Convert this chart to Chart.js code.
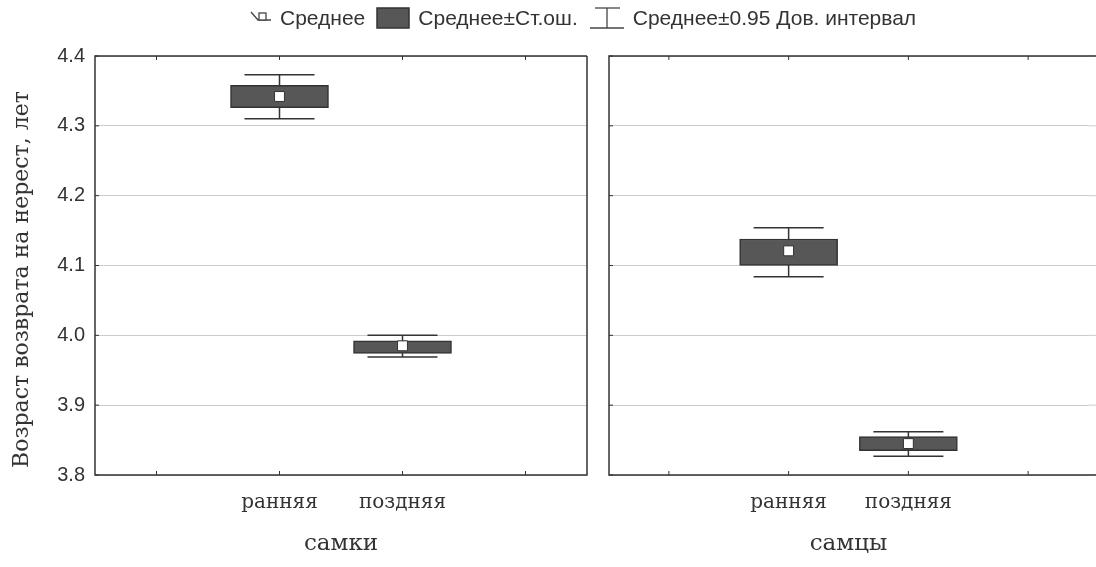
<!DOCTYPE html>
<html>
<head>
<meta charset="utf-8">
<script src="https://cdn.jsdelivr.net/npm/chart.js@4.4.0/dist/chart.umd.min.js"></script>
<style>
  body { margin: 0; background: #fff; overflow: hidden; }
  #wrap { position: relative; width: 1096px; height: 567px; overflow: hidden; }
  #left { position: absolute; left: 0; top: 0; }
  #right { position: absolute; left: 598px; top: 0; }
  #legend {
    position: absolute; left: 250px; top: 5px; height: 26px;
    display: flex; align-items: center; white-space: nowrap;
    font-family: "Liberation Sans", Arial, sans-serif; font-size: 21px; color: #333;
  }
  #legend .item { display: flex; align-items: center; margin-right: 11px; }
  #legend svg { margin-right: 8px; }
</style>
</head>
<body>
<div id="wrap">
  <canvas id="left" width="598" height="567"></canvas>
  <canvas id="right" width="498" height="567"></canvas>
  <div id="legend">
    <div class="item">
      <svg width="22" height="20"><polyline points="1,4 8,12 21,12" fill="none" stroke="#444" stroke-width="1.3"/><rect x="9" y="5" width="7" height="7" fill="#fff" stroke="#444" stroke-width="1.3"/></svg>
      Среднее
    </div>
    <div class="item">
      <svg width="34" height="24"><rect x="1" y="2" width="32" height="20" fill="#575757" stroke="#333" stroke-width="1.5"/></svg>
      Среднее±Ст.ош.
    </div>
    <div class="item">
      <svg width="36" height="26"><line x1="6" y1="3" x2="31" y2="3" stroke="#444" stroke-width="1.3"/><line x1="18" y1="3" x2="18" y2="23" stroke="#444" stroke-width="1.3"/><line x1="1" y1="23" x2="35" y2="23" stroke="#444" stroke-width="1.3"/></svg>
      Среднее±0.95 Дов. интервал
    </div>
  </div>
</div>
<script>
// категории (пустые по краям, как в исходном графике)
const periods = ["", "ранняя", "поздняя", ""];
const yTicks = [3.8, 3.9, 4.0, 4.1, 4.2, 4.3, 4.4];

// самки
const femaleMean = [null, 4.342, 3.985, null];
const femaleSeLow = [null, 4.326, 3.974, null];
const femaleSeHigh = [null, 4.358, 3.992, null];
const femaleCiLow = [null, 4.310, 3.969, null];
const femaleCiHigh = [null, 4.373, 4.000, null];

// самцы
const maleMean = [null, 4.121, 3.845, null];
const maleSeLow = [null, 4.100, 3.835, null];
const maleSeHigh = [null, 4.138, 3.855, null];
const maleCiLow = [null, 4.084, 3.827, null];
const maleCiHigh = [null, 4.154, 3.862, null];

const serif = "'DejaVu Serif', serif";
const sans = "'Liberation Sans', Arial, sans-serif";
const gridColor = "#cccccc";

// усы (доверительный интервал) и рамка панели
function panelPlugin(ciLow, ciHigh, openRight) {
  return {
    id: "panel",
    beforeDatasetsDraw(chart) {
      const ctx = chart.ctx, x = chart.scales.x, y = chart.scales.y;
      ctx.save();
      ctx.strokeStyle = "#333";
      ctx.lineWidth = 1.5;
      ciLow.forEach((lo, i) => {
        if (lo == null) return;
        const px = x.getPixelForValue(i);
        const top = y.getPixelForValue(ciHigh[i]);
        const bot = y.getPixelForValue(lo);
        ctx.beginPath();
        ctx.moveTo(px, top); ctx.lineTo(px, bot);
        ctx.moveTo(px - 35, top); ctx.lineTo(px + 35, top);
        ctx.moveTo(px - 35, bot); ctx.lineTo(px + 35, bot);
        ctx.stroke();
      });
      ctx.restore();
    },
    afterDraw(chart) {
      const ctx = chart.ctx, a = chart.chartArea, x = chart.scales.x, y = chart.scales.y;
      const r = openRight ? chart.width : a.right;
      ctx.save();
      if (openRight) {
        // сетка уходит за край картинки
        ctx.strokeStyle = gridColor;
        ctx.lineWidth = 1;
        y.ticks.forEach(t => {
          const py = y.getPixelForValue(t.value);
          ctx.beginPath(); ctx.moveTo(a.right, py); ctx.lineTo(r, py); ctx.stroke();
        });
      }
      ctx.strokeStyle = "#333";
      ctx.lineWidth = 1.5;
      ctx.beginPath();
      ctx.moveTo(r, a.top); ctx.lineTo(a.left, a.top); ctx.lineTo(a.left, a.bottom); ctx.lineTo(r, a.bottom);
      if (!openRight) ctx.lineTo(r, a.top);
      ctx.stroke();
      ctx.lineWidth = 1;
      // засечки
      y.ticks.forEach(t => {
        const py = y.getPixelForValue(t.value);
        ctx.beginPath(); ctx.moveTo(a.left, py); ctx.lineTo(a.left + 4, py); ctx.stroke();
      });
      periods.forEach((p, i) => {
        const px = x.getPixelForValue(i);
        ctx.beginPath();
        ctx.moveTo(px, a.top); ctx.lineTo(px, a.top + 4);
        ctx.moveTo(px, a.bottom); ctx.lineTo(px, a.bottom - 4);
        ctx.stroke();
      });
      ctx.restore();
    }
  };
}

function makePanel(id, title, mean, seLow, seHigh, ciLow, ciHigh, showY) {
  return new Chart(document.getElementById(id), {
    type: "bar",
    data: {
      labels: periods,
      datasets: [
        {
          type: "line",
          data: mean,
          showLine: false,
          pointStyle: "rect",
          pointRadius: 7,
          pointBackgroundColor: "#fff",
          pointBorderColor: "#333",
          pointBorderWidth: 1,
          order: 0,
        },
        {
          data: seLow.map((v, i) => (v == null ? null : [v, seHigh[i]])),
          backgroundColor: "#575757",
          borderColor: "#333",
          borderWidth: 1.5,
          borderSkipped: false,
          barThickness: 98,
          grouped: false,
          order: 1,
        },
      ],
    },
    options: {
      responsive: false,
      animation: false,
      layout: { padding: { top: 56, right: showY ? 11 : 0, left: showY ? 0 : 11, bottom: 0 } },
      plugins: { legend: { display: false }, tooltip: { enabled: false } },
      scales: {
        x: {
          grid: { display: false },
          border: { display: false },
          ticks: { color: "#333", padding: 8, font: { family: serif, size: 20 } },
          title: { display: true, text: title, color: "#333", padding: { top: 0, bottom: 9 }, font: { family: serif, size: 23 } },
          afterFit: (s) => { s.height = 92; },
        },
        y: {
          min: 3.8,
          max: 4.4,
          afterBuildTicks: (s) => { s.ticks = yTicks.map((v) => ({ value: v })); },
          grid: { color: gridColor, lineWidth: 1, drawTicks: false },
          border: { display: false },
          ticks: {
            display: showY,
            color: "#333",
            padding: 10,
            font: { family: sans, size: 20 },
            callback: (v) => Number(v).toFixed(1),
          },
          title: {
            display: showY,
            text: "Возраст возврата на нерест, лет\u00A0\u00A0\u00A0\u00A0",
            color: "#333",
            padding: { top: 9, bottom: 0 },
            font: { family: serif, size: 22 },
          },
          afterFit: (s) => { s.width = showY ? 95 : 0; },
        },
      },
    },
    plugins: [panelPlugin(ciLow, ciHigh, !showY)],
  });
}

makePanel("left", "самки", femaleMean, femaleSeLow, femaleSeHigh, femaleCiLow, femaleCiHigh, true);
makePanel("right", "самцы", maleMean, maleSeLow, maleSeHigh, maleCiLow, maleCiHigh, false);
</script>
</body>
</html>
